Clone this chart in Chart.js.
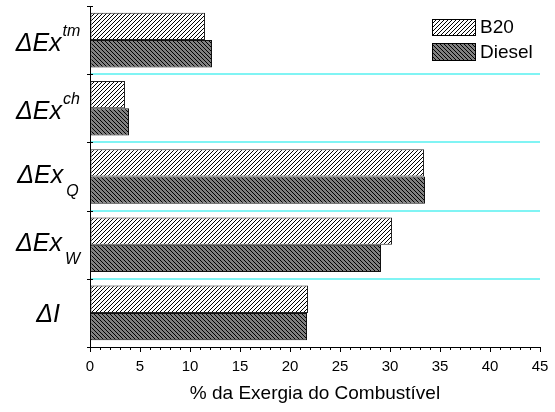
<!DOCTYPE html>
<html>
<head>
<meta charset="utf-8">
<script src="https://cdn.jsdelivr.net/npm/chart.js@4/dist/chart.umd.min.js"></script>
<style>
  html, body { margin: 0; padding: 0; background: #fff; }
  #wrap { width: 555px; height: 412px; }
</style>
</head>
<body>
<div id="wrap"><canvas id="c" width="555" height="412"></canvas></div>
<script>
// Exergy balance terms (percent of fuel exergy)
const categories   = ['ΔEx^tm', 'ΔEx^ch', 'ΔEx_Q', 'ΔEx_W', 'ΔI'];
const labelBase    = ['ΔEx', 'ΔEx', 'ΔEx', 'ΔEx', 'ΔI'];
const labelSup     = ['tm', 'ch', '', '', ''];
const labelSub     = ['', '', 'Q', 'W', ''];
const seriesNames  = ['B20', 'Diesel'];
const b20Values    = [11.5, 3.5, 33.4, 30.2, 21.8];
const dieselValues = [12.2, 3.9, 33.5, 29.1, 21.7];
const xTickMin = 0, xTickMax = 45, xTickStep = 5, xMinorStep = 1;
const xTitle = '% da Exergia do Combustível';

const FONT = '"Liberation Sans", Arial, Helvetica, sans-serif';

// Hatch fill: 1px diagonal lines on a small tile
function hatch(bg, fg, dir, n) {
  const t = document.createElement('canvas');
  t.width = n; t.height = n;
  const g = t.getContext('2d');
  g.fillStyle = bg; g.fillRect(0, 0, n, n);
  g.fillStyle = fg;
  for (let i = 0; i < n; i++) {
    const x = dir === '/' ? (n - 1 - i) : i;
    g.fillRect(x, i, 1, 1);
  }
  return document.getElementById('c').getContext('2d').createPattern(t, 'repeat');
}
const b20Fill = hatch('#ffffff', '#000000', '/', 4);
const dieselFill = hatch('#808080', '#000000', '\\', 4);

const decorations = {
  id: 'decorations',
  afterDraw(chart) {
    const ctx = chart.ctx;
    const xs = chart.scales.x, ys = chart.scales.y;
    const axisX = ys.right;
    ctx.save();
    ctx.strokeStyle = '#000';
    ctx.lineWidth = 1;

    // minor ticks on x axis
    ctx.beginPath();
    for (let v = xTickMin; v <= xTickMax; v += xMinorStep) {
      if (v % xTickStep === 0) continue;
      const px = Math.round(xs.getPixelForValue(v)) + 0.5;
      ctx.moveTo(px, xs.top);
      ctx.lineTo(px, xs.top + 3);
    }
    ctx.stroke();

    // category boundary ticks crossing the y axis
    const n = categories.length;
    const bounds = [ys.top];
    for (let i = 1; i < n; i++) {
      bounds.push((ys.getPixelForValue(i - 1) + ys.getPixelForValue(i)) / 2);
    }
    bounds.push(ys.bottom);
    ctx.beginPath();
    bounds.forEach(b => {
      const py = Math.round(b) + 0.5;
      ctx.moveTo(axisX - 3, py);
      ctx.lineTo(axisX + 3, py);
    });
    ctx.stroke();

    // category labels with super/subscripts
    ctx.fillStyle = '#000';
    ctx.textBaseline = 'alphabetic';
    ctx.textAlign = 'left';
    const mainFont = 'italic 25px ' + FONT;
    const smallFont = 'italic 16px ' + FONT;
    for (let i = 0; i < n; i++) {
      const cy = ys.getPixelForValue(i);
      ctx.font = mainFont;
      const w1 = ctx.measureText(labelBase[i]).width;
      const extra = labelSup[i] || labelSub[i];
      ctx.font = smallFont;
      const gap = labelSub[i] ? 3 : 1;
      const w2 = extra ? ctx.measureText(extra).width + gap : 0;
      const x0 = 48 - (w1 + w2) / 2;
      let base;
      if (labelSup[i]) base = cy + 11;
      else if (labelSub[i]) base = cy + 6;
      else base = cy + 9;
      ctx.font = mainFont;
      ctx.fillText(labelBase[i], x0, base);
      if (labelSup[i]) {
        ctx.font = smallFont;
        ctx.fillText(labelSup[i], x0 + w1 + gap, cy - 4);
      } else if (labelSub[i]) {
        ctx.font = smallFont;
        ctx.fillText(labelSub[i], x0 + w1 + gap, cy + 19);
      }
    }

    // legend
    const fills = [b20Fill, dieselFill];
    const boxes = [[432, 19, 43, 16], [432, 43, 43, 17]];
    ctx.font = '19px ' + FONT;
    ctx.textBaseline = 'middle';
    seriesNames.forEach((name, k) => {
      const [bx, by, bw, bh] = boxes[k];
      ctx.fillStyle = fills[k];
      ctx.fillRect(bx, by, bw, bh);
      ctx.strokeStyle = '#000';
      ctx.strokeRect(bx + 0.5, by + 0.5, bw, bh);
      ctx.fillStyle = '#000';
      ctx.fillText(name, bx + bw + 5, by + bh / 2 + 1);
    });
    ctx.restore();
  }
};

new Chart(document.getElementById('c'), {
  type: 'bar',
  data: {
    labels: categories,
    datasets: [
      { label: seriesNames[0], data: b20Values, backgroundColor: b20Fill,
        borderColor: '#222', borderWidth: 1, borderSkipped: false },
      { label: seriesNames[1], data: dieselValues, backgroundColor: dieselFill,
        borderColor: '#111', borderWidth: 1, borderSkipped: false }
    ]
  },
  options: {
    indexAxis: 'y',
    responsive: false,
    animation: false,
    devicePixelRatio: 1,
    categoryPercentage: 0.8,
    barPercentage: 1.0,
    layout: { padding: { left: 0, right: 15, top: 6, bottom: 0 } },
    plugins: { legend: { display: false }, tooltip: { enabled: false } },
    scales: {
      x: {
        type: 'linear',
        min: xTickMin, max: xTickMax,
        ticks: { stepSize: xTickStep, color: '#000', padding: 6,
                 font: { family: FONT, size: 15 } },
        grid: { drawOnChartArea: false, drawTicks: true, tickLength: 5,
                tickColor: '#000', tickWidth: 1 },
        border: { display: true, color: '#000', width: 1 },
        title: { display: true, text: xTitle, color: '#000',
                 font: { family: FONT, size: 19 }, padding: { top: 4, bottom: 7 } },
        afterFit(s) { s.height = 65; }
      },
      y: {
        type: 'category',
        offset: true,
        ticks: { display: false },
        grid: {
          offset: true, drawTicks: false, lineWidth: 2,
          color: (c) => (c.index >= 1 && c.index <= categories.length - 1) ? '#80f4f4' : 'rgba(0,0,0,0)'
        },
        border: { display: true, color: '#000', width: 1 },
        afterFit(s) { s.width = 90; }
      }
    }
  },
  plugins: [decorations]
});
</script>
</body>
</html>
